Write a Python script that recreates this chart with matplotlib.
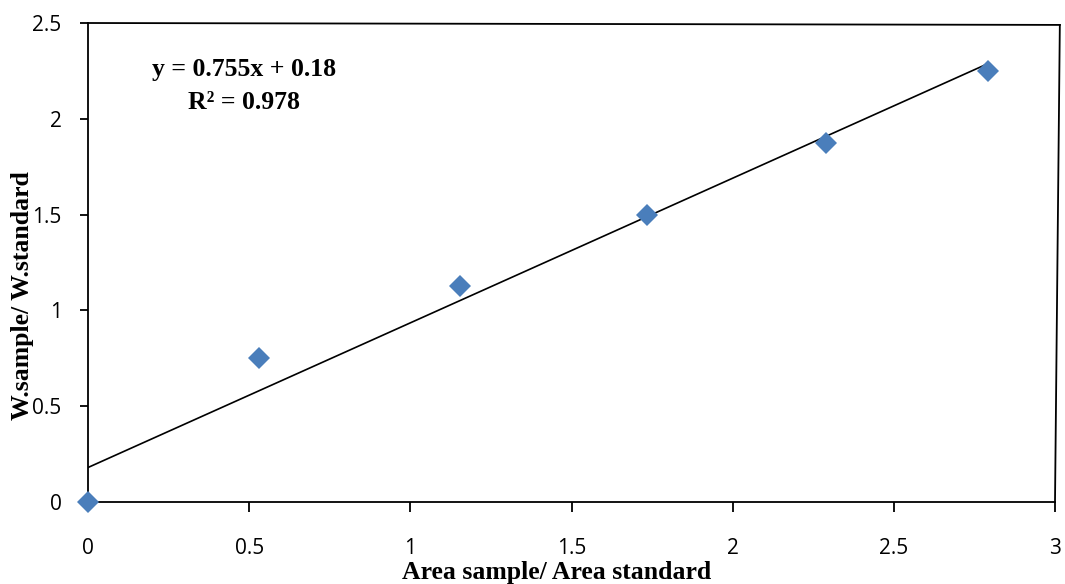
import matplotlib
matplotlib.use("Agg")
import matplotlib.pyplot as plt
import numpy as np

# Calibration data: area ratio vs weight ratio
area_ratio = [0.0, 0.531, 1.154, 1.734, 2.290, 2.792]
weight_ratio = [0.0, 0.75, 1.125, 1.50, 1.875, 2.25]

slope = 0.755
intercept = 0.18
r_squared = 0.978

x_ticks = [0, 0.5, 1, 1.5, 2, 2.5, 3]
x_tick_labels = ["0", "0.5", "1", "1.5", "2", "2.5", "3"]
y_ticks = [0, 0.5, 1, 1.5, 2, 2.5]
y_tick_labels = ["0", "0.5", "1", "1.5", "2", "2.5"]

W, H = 1065, 584
fig = plt.figure(figsize=(W / 100, H / 100), dpi=100)
ax = fig.add_axes([88 / W, 1 - 502 / H, (1055 - 88) / W, (502 - 23) / H])

tick_font = "Open Sans"
label_font = "Liberation Serif"

# Linear trend line across the range of the data
xfit = np.array([min(area_ratio), max(area_ratio)])
ax.plot(xfit, slope * xfit + intercept, color="black", lw=1.2, zorder=2)

ax.plot(area_ratio, weight_ratio, linestyle="none", marker="D",
        markersize=11.5, color="#4A7EBB", markeredgewidth=0, zorder=3,
        clip_on=False)

ax.set_xlim(0, 3)
ax.set_ylim(0, 2.5)
ax.set_xticks(x_ticks)
ax.set_xticklabels(x_tick_labels, fontfamily=tick_font, fontsize=15)
ax.set_yticks(y_ticks)
ax.set_yticklabels(y_tick_labels, fontfamily=tick_font, fontsize=15)
ax.tick_params(axis="x", direction="out", length=7, width=1.3, pad=19)
ax.tick_params(axis="y", direction="out", length=6, width=1.3, pad=13)

for side in ("left", "bottom"):
    ax.spines[side].set_linewidth(1.3)
ax.spines["top"].set_visible(False)
ax.spines["right"].set_visible(False)

# Frame on the top and right edges
ax.plot([0, 1.005], [1, 0.996], transform=ax.transAxes, color="black",
        lw=1.3, clip_on=False)
ax.plot([1.005, 1.0], [0.996, 0], transform=ax.transAxes, color="black",
        lw=1.3, clip_on=False)

# Regression equation
ax.text(0.485, 2.255, f"y = {slope}x + {intercept}", ha="center",
        va="center", fontfamily=label_font, fontweight="bold", fontsize=18.5)
ax.text(0.485, 2.085, f"R² = {r_squared}", ha="center", va="center",
        fontfamily=label_font, fontweight="bold", fontsize=18.5)

fig.text(557 / W, 1 - 572 / H, "Area sample/ Area standard", ha="center",
         va="center", fontfamily=label_font, fontweight="bold", fontsize=18.5)
fig.text(23 / W, 1 - 296 / H, "W.sample/ W.standard", ha="center",
         va="center", rotation=90, fontfamily=label_font, fontweight="bold",
         fontsize=18.5)

fig.savefig("out.png", dpi=100)
